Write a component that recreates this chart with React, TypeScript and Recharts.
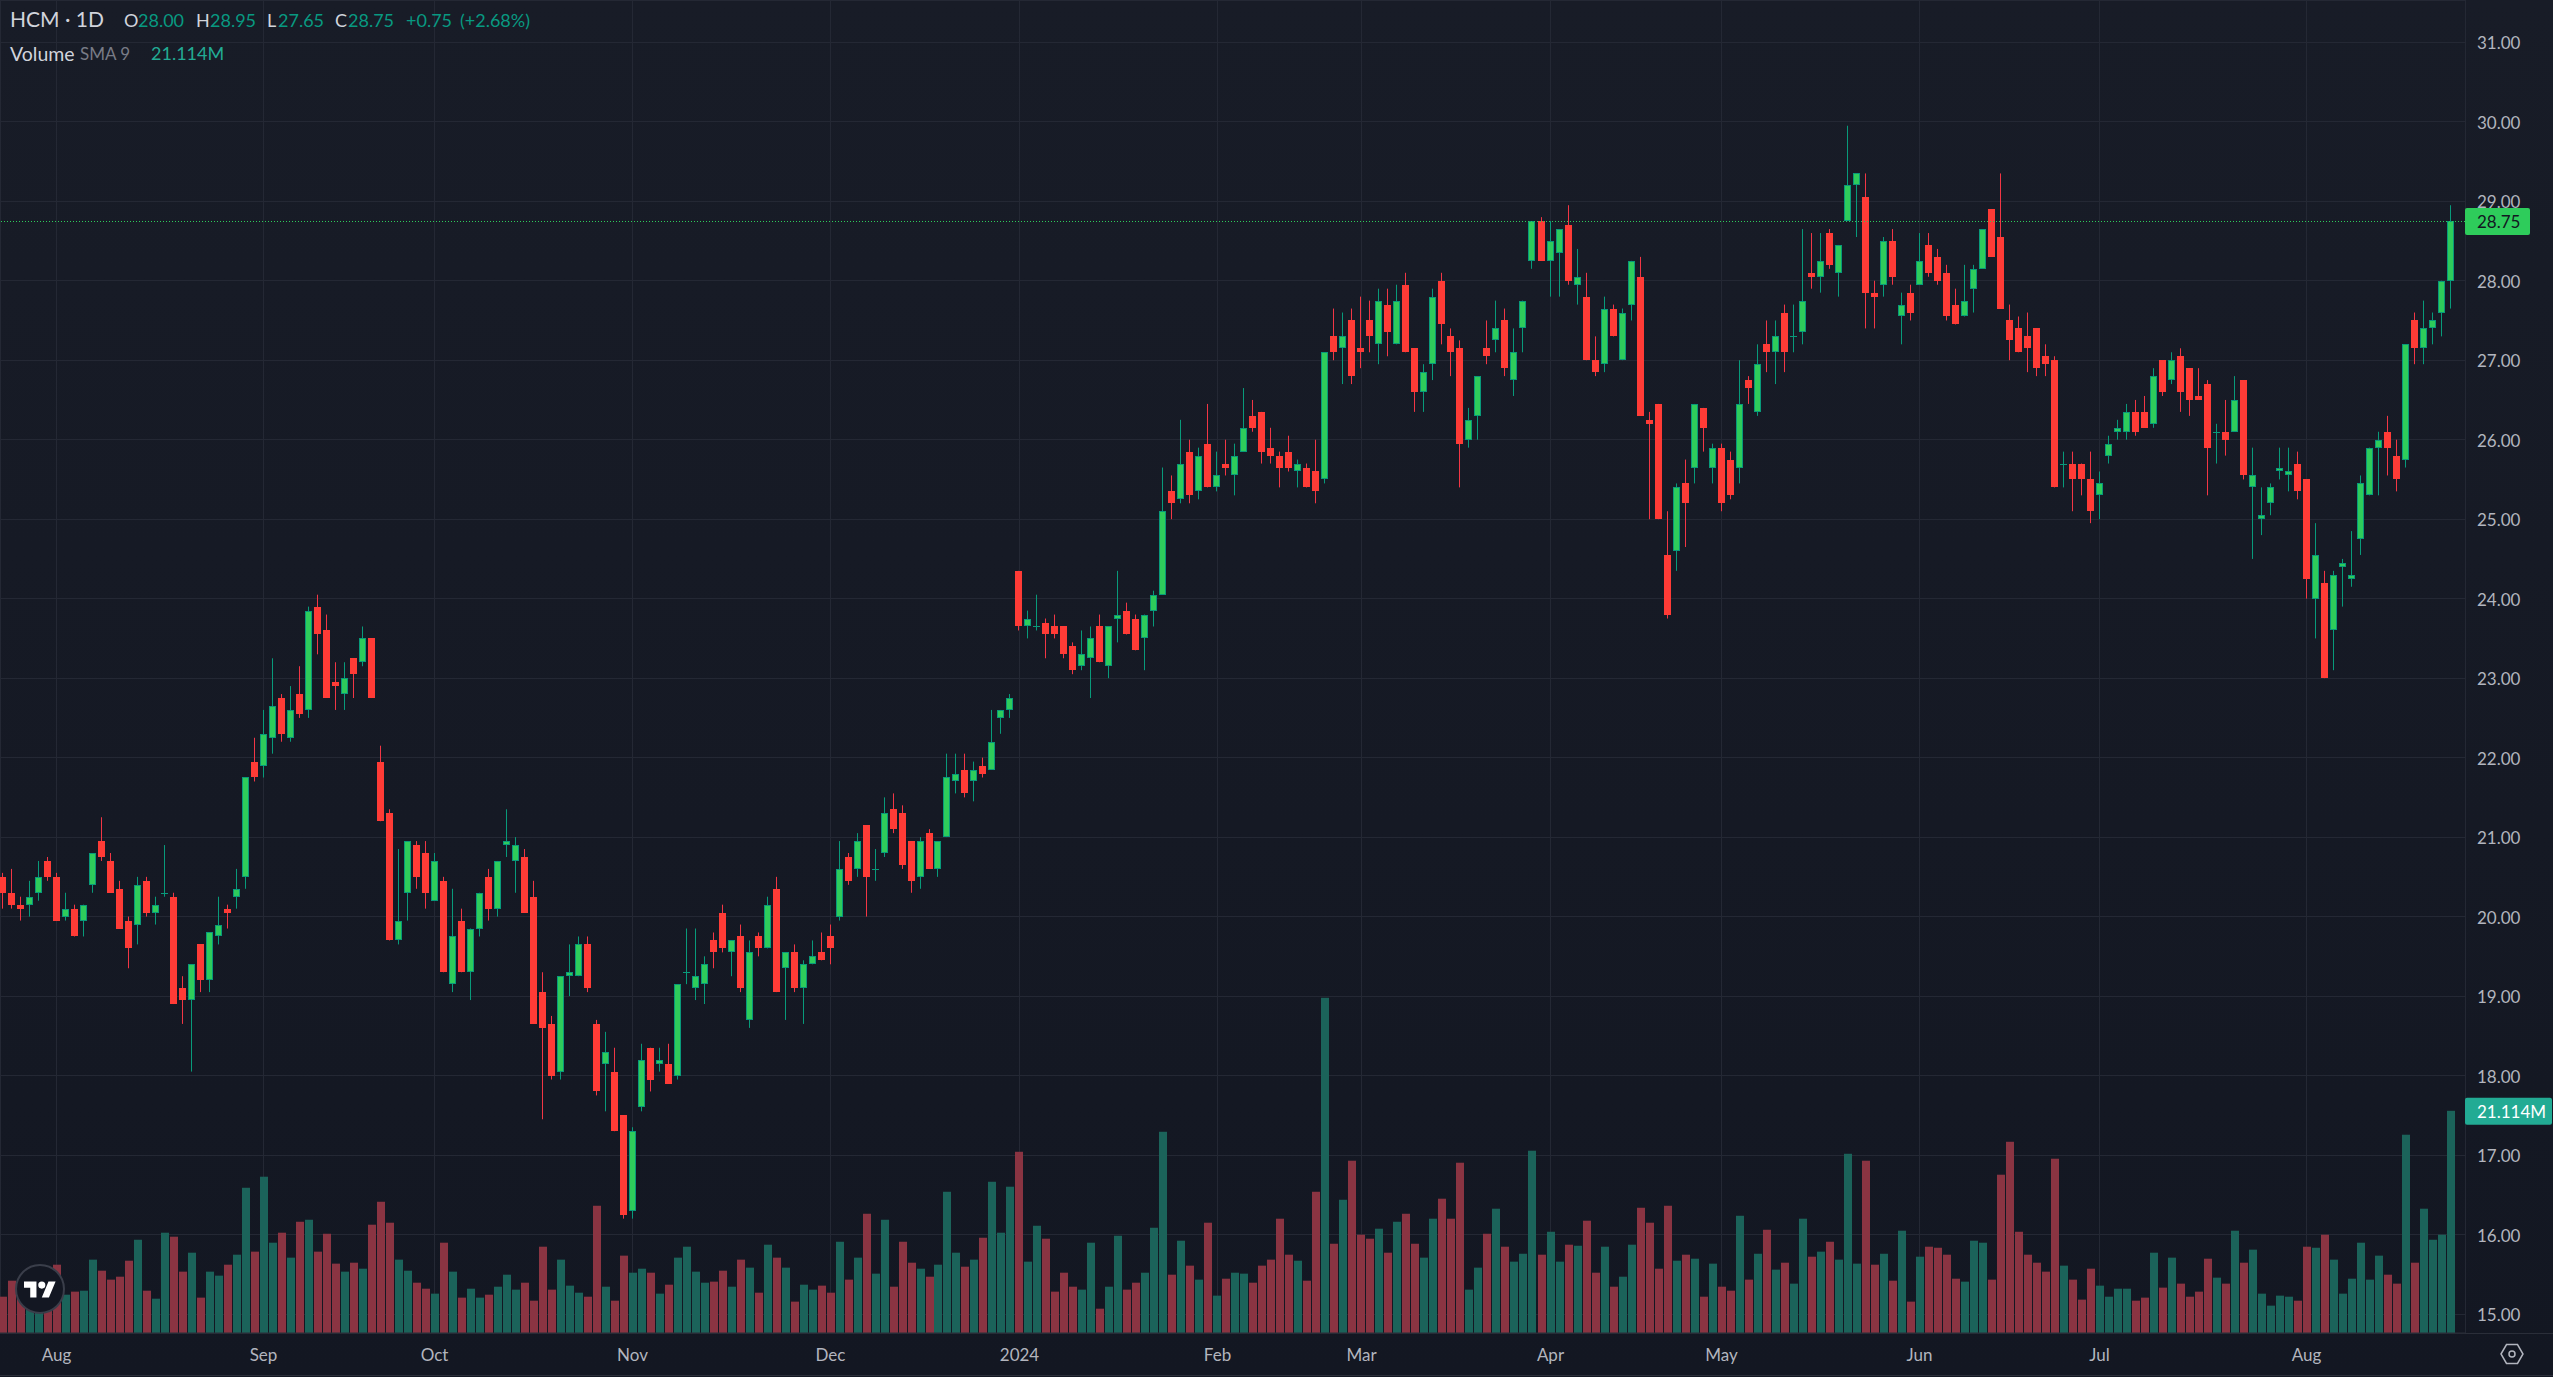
import { Bar, CartesianGrid, ComposedChart, ReferenceLine, XAxis, YAxis } from "recharts";

const WIDTH = 2553;
const HEIGHT = 1377;

const opens = [
  20.5, 20.3, 20.15, 20.15, 20.3, 20.7, 20.5, 20.0, 20.1, 19.95,
  20.4, 20.95, 20.7, 20.35, 19.95, 19.9, 20.45, 20.05, 20.3, 20.25,
  19.1, 18.95, 19.65, 19.2, 19.75, 20.1, 20.25, 20.5, 21.95, 21.9,
  22.25, 22.75, 22.25, 22.8, 22.6, 23.9, 23.6, 22.95, 22.8, 23.25,
  23.2, 23.5, 21.95, 21.3, 19.7, 20.3, 20.9, 20.8, 20.2, 20.45,
  19.15, 19.95, 19.3, 19.85, 20.5, 20.1, 20.9, 20.7, 20.75, 20.25,
  19.05, 18.65, 18.05, 19.25, 19.25, 19.65, 18.65, 18.15, 18.05, 17.5,
  16.3, 17.6, 18.35, 18.15, 18.15, 18.0, 19.3, 19.1, 19.15, 19.7,
  20.05, 19.55, 19.75, 18.7, 19.75, 19.6, 20.35, 19.35, 19.55, 19.1,
  19.4, 19.55, 19.75, 20.0, 20.75, 20.6, 21.15, 20.6, 20.8, 21.35,
  21.3, 20.95, 20.5, 21.05, 20.6, 21.0, 21.7, 21.85, 21.7, 21.9,
  21.85, 22.5, 22.6, 24.35, 23.65, 23.65, 23.7, 23.65, 23.65, 23.4,
  23.15, 23.25, 23.65, 23.15, 23.75, 23.85, 23.75, 23.5, 23.85, 24.05,
  25.35, 25.25, 25.85, 25.35, 25.95, 25.4, 25.7, 25.55, 25.85, 26.3,
  26.35, 25.9, 25.8, 25.85, 25.6, 25.65, 25.6, 25.5, 27.3, 27.15,
  27.5, 27.15, 27.5, 27.2, 27.7, 27.2, 27.95, 27.15, 26.6, 26.95,
  28.0, 27.3, 27.15, 26.0, 26.3, 27.15, 27.25, 27.5, 26.75, 27.4,
  28.25, 28.75, 28.25, 28.35, 28.7, 27.95, 27.8, 27.0, 26.95, 27.65,
  27.0, 27.7, 28.05, 26.25, 26.45, 24.55, 24.6, 25.45, 25.65, 26.4,
  25.65, 25.9, 25.75, 25.65, 26.75, 26.35, 27.2, 27.1, 27.6, 27.3,
  27.35, 28.1, 28.05, 28.6, 28.1, 28.75, 29.2, 29.05, 27.85, 27.95,
  28.5, 27.55, 27.85, 27.95, 28.45, 28.3, 28.1, 27.7, 27.55, 27.9,
  28.15, 28.9, 28.55, 27.5, 27.4, 27.3, 27.4, 27.05, 27.0, 25.7,
  25.7, 25.7, 25.5, 25.3, 25.8, 26.1, 26.1, 26.35, 26.35, 26.2,
  27.0, 26.75, 27.05, 26.9, 26.55, 26.7, 26.1, 26.1, 26.1, 26.75,
  25.4, 25.0, 25.2, 25.6, 25.55, 25.7, 25.5, 24.0, 24.2, 23.6,
  24.4, 24.25, 24.75, 25.3, 25.9, 26.1, 25.8, 25.75, 27.5, 27.15,
  27.4, 27.6, 28.0,
];

const highs = [
  20.55, 20.6, 20.25, 20.45, 20.7, 20.75, 20.55, 20.3, 20.15, 20.15,
  20.8, 21.25, 20.8, 20.45, 20.0, 20.5, 20.5, 20.25, 20.9, 20.3,
  19.25, 19.4, 19.65, 19.8, 20.25, 20.15, 20.6, 21.75, 22.25, 22.6,
  23.25, 22.8, 22.9, 23.15, 23.9, 24.05, 23.8, 23.2, 23.2, 23.25,
  23.65, 23.5, 22.15, 21.35, 20.85, 20.95, 20.95, 20.95, 20.8, 20.5,
  20.35, 20.1, 19.85, 20.3, 20.6, 20.7, 21.35, 21.0, 20.85, 20.45,
  19.3, 18.75, 19.25, 19.65, 19.75, 19.75, 18.7, 18.55, 18.35, 17.5,
  17.35, 18.4, 18.35, 18.35, 18.4, 19.15, 19.85, 19.85, 19.5, 19.8,
  20.15, 19.7, 19.9, 19.7, 19.8, 20.25, 20.5, 19.55, 19.65, 19.45,
  19.7, 19.8, 19.9, 20.95, 20.8, 21.05, 21.15, 20.85, 21.5, 21.55,
  21.4, 20.95, 21.0, 21.1, 20.95, 22.05, 22.05, 22.05, 21.95, 22.0,
  22.6, 22.6, 22.8, 24.35, 23.85, 24.05, 23.75, 23.8, 23.65, 23.45,
  23.6, 23.65, 23.8, 23.65, 24.35, 23.95, 23.8, 23.8, 24.1, 25.65,
  25.55, 26.25, 26.0, 25.9, 26.45, 25.85, 26.0, 25.95, 26.65, 26.5,
  26.35, 26.15, 25.85, 26.05, 25.75, 25.7, 26.0, 27.1, 27.65, 27.6,
  27.65, 27.8, 27.75, 27.9, 27.9, 27.95, 28.1, 27.15, 26.95, 27.9,
  28.1, 27.4, 27.25, 26.4, 26.8, 27.5, 27.75, 27.65, 27.4, 27.75,
  28.75, 28.8, 28.75, 28.65, 28.95, 28.4, 28.1, 27.3, 27.8, 27.7,
  27.65, 28.25, 28.3, 26.35, 26.45, 25.1, 25.45, 25.75, 26.45, 26.4,
  25.95, 25.95, 25.85, 27.0, 26.8, 27.2, 27.5, 27.5, 27.7, 27.7,
  28.65, 28.6, 28.6, 28.65, 28.45, 29.95, 29.35, 29.35, 28.0, 28.55,
  28.65, 27.85, 27.95, 28.6, 28.6, 28.4, 28.2, 27.9, 28.2, 28.2,
  28.65, 28.9, 29.35, 27.7, 27.55, 27.6, 27.4, 27.2, 27.05, 25.85,
  25.85, 25.7, 25.85, 25.6, 26.05, 26.25, 26.45, 26.5, 26.55, 26.9,
  27.0, 27.1, 27.15, 26.9, 26.9, 26.75, 26.2, 26.5, 26.8, 26.75,
  25.9, 25.4, 25.45, 25.9, 25.9, 25.85, 25.5, 24.95, 24.35, 24.35,
  24.5, 24.85, 25.55, 25.9, 26.1, 26.3, 26.0, 27.2, 27.6, 27.75,
  27.6, 28.0, 28.95,
];

const lows = [
  20.1, 20.1, 19.95, 20.0, 20.2, 20.45, 19.95, 19.95, 19.75, 19.75,
  20.3, 20.7, 20.3, 19.85, 19.35, 19.65, 20.0, 19.9, 20.25, 18.9,
  18.65, 18.05, 19.05, 19.05, 19.65, 19.85, 20.1, 20.35, 21.7, 21.75,
  22.05, 22.2, 22.2, 22.5, 22.5, 23.3, 22.75, 22.6, 22.6, 22.75,
  23.15, 22.75, 21.2, 19.7, 19.65, 19.95, 20.35, 20.1, 20.2, 19.3,
  19.05, 19.3, 18.95, 19.75, 19.95, 20.0, 20.75, 20.3, 20.05, 18.65,
  17.45, 17.95, 17.95, 19.0, 19.25, 19.05, 17.75, 17.55, 17.3, 16.2,
  16.2, 17.55, 17.8, 18.05, 17.9, 17.95, 19.15, 18.95, 18.9, 19.35,
  19.55, 19.25, 19.05, 18.6, 19.5, 19.6, 19.05, 18.7, 19.05, 18.65,
  19.4, 19.45, 19.4, 19.95, 20.4, 20.5, 20.0, 20.45, 20.75, 21.05,
  20.6, 20.3, 20.35, 20.6, 20.5, 21.0, 21.55, 21.5, 21.45, 21.75,
  21.85, 22.3, 22.5, 23.6, 23.5, 23.6, 23.25, 23.5, 23.25, 23.05,
  23.1, 22.75, 23.2, 23.0, 23.45, 23.55, 23.35, 23.1, 23.65, 24.05,
  25.0, 25.2, 25.2, 25.25, 25.4, 25.35, 25.55, 25.3, 25.85, 26.1,
  25.7, 25.7, 25.4, 25.6, 25.4, 25.4, 25.2, 25.45, 27.0, 26.7,
  26.7, 26.9, 27.1, 26.95, 27.05, 27.2, 27.1, 26.35, 26.35, 26.75,
  27.2, 26.8, 25.4, 25.9, 26.0, 26.95, 27.1, 26.8, 26.55, 27.1,
  28.15, 28.25, 27.8, 27.8, 27.95, 27.7, 27.0, 26.8, 26.85, 27.3,
  27.0, 27.5, 26.3, 25.0, 25.0, 23.75, 24.35, 24.65, 25.45, 25.85,
  25.45, 25.1, 25.25, 25.45, 26.45, 26.3, 26.85, 26.7, 26.85, 27.1,
  27.2, 27.9, 27.85, 28.15, 27.8, 28.75, 28.55, 27.4, 27.4, 27.8,
  27.95, 27.2, 27.5, 27.95, 28.05, 27.95, 27.5, 27.45, 27.55, 27.6,
  28.15, 28.3, 27.65, 27.0, 27.1, 26.85, 26.8, 26.8, 25.4, 25.4,
  25.1, 25.3, 24.95, 25.0, 25.7, 26.0, 26.0, 26.05, 26.15, 26.15,
  26.55, 26.7, 26.35, 26.3, 26.5, 25.3, 25.7, 25.8, 26.1, 25.5,
  24.5, 24.8, 25.05, 25.5, 25.35, 25.25, 24.0, 23.5, 23.0, 23.1,
  23.9, 24.15, 24.55, 25.3, 25.3, 25.55, 25.35, 25.65, 26.95, 26.95,
  27.2, 27.3, 27.65,
];

const closes = [
  20.3, 20.15, 20.1, 20.25, 20.5, 20.5, 19.95, 20.1, 19.75, 20.15,
  20.8, 20.75, 20.3, 19.85, 19.6, 20.4, 20.05, 20.15, 20.3, 18.9,
  18.95, 19.4, 19.2, 19.8, 19.9, 20.05, 20.35, 21.75, 21.75, 22.3,
  22.65, 22.3, 22.6, 22.55, 23.85, 23.55, 22.75, 22.9, 23.0, 23.05,
  23.5, 22.75, 21.2, 19.7, 19.95, 20.95, 20.5, 20.3, 20.7, 19.3,
  19.75, 19.3, 19.85, 20.3, 20.1, 20.7, 20.95, 20.9, 20.05, 18.65,
  18.6, 18.0, 19.25, 19.3, 19.65, 19.1, 17.8, 18.3, 17.3, 16.25,
  17.3, 18.2, 17.95, 18.2, 17.9, 19.15, 19.3, 19.25, 19.4, 19.55,
  19.6, 19.7, 19.1, 19.55, 19.6, 20.15, 19.05, 19.55, 19.1, 19.4,
  19.5, 19.45, 19.6, 20.6, 20.45, 20.95, 20.5, 20.6, 21.3, 21.1,
  20.65, 20.45, 20.95, 20.6, 20.95, 21.75, 21.8, 21.55, 21.85, 21.8,
  22.2, 22.6, 22.75, 23.65, 23.75, 23.65, 23.55, 23.55, 23.3, 23.1,
  23.3, 23.5, 23.2, 23.65, 23.8, 23.55, 23.35, 23.8, 24.05, 25.1,
  25.2, 25.7, 25.3, 25.8, 25.4, 25.55, 25.65, 25.8, 26.15, 26.15,
  25.85, 25.8, 25.65, 25.65, 25.7, 25.4, 25.35, 27.1, 27.1, 27.3,
  26.8, 27.1, 27.3, 27.75, 27.35, 27.75, 27.1, 26.6, 26.85, 27.8,
  27.45, 27.1, 25.95, 26.25, 26.8, 27.05, 27.4, 26.9, 27.1, 27.75,
  28.75, 28.25, 28.5, 28.65, 28.0, 28.05, 27.0, 26.85, 27.65, 27.3,
  27.6, 28.25, 26.3, 26.2, 25.0, 23.8, 25.4, 25.2, 26.45, 26.15,
  25.9, 25.2, 25.3, 26.45, 26.65, 26.95, 27.1, 27.3, 27.1, 27.3,
  27.75, 28.05, 28.25, 28.2, 28.45, 29.2, 29.35, 27.85, 27.8, 28.5,
  28.05, 27.7, 27.6, 28.25, 28.1, 28.0, 27.55, 27.45, 27.75, 28.15,
  28.65, 28.3, 27.65, 27.25, 27.1, 27.15, 26.9, 26.95, 25.4, 25.7,
  25.5, 25.5, 25.1, 25.45, 25.95, 26.15, 26.35, 26.1, 26.15, 26.8,
  26.6, 27.0, 26.6, 26.5, 26.5, 25.9, 26.1, 26.0, 26.5, 25.55,
  25.55, 25.05, 25.4, 25.65, 25.6, 25.35, 24.25, 24.55, 23.0, 24.3,
  24.45, 24.3, 25.45, 25.9, 26.0, 25.9, 25.5, 27.2, 27.15, 27.4,
  27.5, 28.0, 28.75,
];

// volume in millions
const volumes = [
  3.45, 4.97, 3.8, 3.17, 3.8, 4.12, 6.49, 3.64, 3.93, 4.02,
  6.97, 5.92, 5.07, 5.35, 6.87, 8.86, 4.02, 3.26, 9.53, 9.15,
  5.83, 7.63, 3.36, 5.83, 5.45, 6.49, 7.44, 13.8, 7.73, 14.85,
  8.58, 9.53, 7.16, 10.57, 10.76, 7.73, 9.43, 6.59, 5.83, 6.68,
  6.11, 10.29, 12.47, 10.48, 6.97, 5.92, 4.78, 4.21, 3.74, 8.58,
  5.83, 3.36, 4.21, 3.36, 3.64, 4.4, 5.54, 4.12, 4.78, 3.07,
  8.2, 4.12, 6.97, 4.5, 3.83, 3.45, 12.09, 4.4, 3.07, 7.35,
  5.73, 6.11, 5.73, 3.74, 4.59, 7.16, 8.2, 5.83, 4.78, 4.88,
  5.92, 4.4, 6.97, 6.21, 3.83, 8.39, 7.16, 6.21, 2.98, 4.59,
  4.12, 4.5, 3.83, 8.67, 5.07, 7.16, 11.33, 5.64, 10.76, 4.4,
  8.67, 6.68, 6.11, 5.35, 6.49, 13.42, 7.63, 6.3, 6.97, 9.05,
  14.37, 9.53, 13.9, 17.22, 6.78, 10.19, 8.96, 3.93, 5.73, 4.4,
  4.12, 8.58, 2.31, 4.4, 9.24, 4.12, 4.78, 5.73, 10.0, 19.12,
  5.54, 8.77, 6.4, 5.07, 10.48, 3.55, 5.16, 5.73, 5.64, 4.78,
  6.4, 6.97, 10.86, 7.44, 6.87, 4.97, 13.42, 31.85, 8.48, 12.66,
  16.37, 9.34, 8.96, 9.91, 7.63, 10.57, 11.33, 8.48, 7.16, 10.86,
  12.76, 10.86, 16.18, 4.12, 6.21, 9.43, 11.81, 8.2, 6.78, 7.53,
  17.32, 7.44, 9.62, 6.78, 8.39, 8.29, 10.67, 5.73, 8.2, 4.4,
  5.35, 8.39, 11.9, 10.48, 6.11, 12.09, 6.87, 7.44, 7.06, 3.45,
  6.59, 4.4, 4.02, 11.14, 5.07, 7.53, 9.81, 6.02, 6.68, 4.69,
  10.86, 7.25, 7.73, 8.67, 6.97, 17.03, 6.59, 16.37, 6.49, 7.53,
  4.97, 9.72, 2.98, 7.25, 8.2, 8.1, 7.44, 5.16, 4.88, 8.77,
  8.58, 5.07, 15.04, 18.17, 9.62, 7.44, 6.68, 5.83, 16.56, 6.4,
  5.07, 3.17, 6.11, 4.5, 3.45, 4.21, 4.21, 3.07, 3.36, 7.63,
  4.31, 7.16, 4.69, 3.45, 3.93, 7.06, 5.26, 4.69, 9.72, 6.68,
  7.92, 3.74, 2.6, 3.55, 3.45, 3.07, 8.2, 8.1, 9.34, 6.97,
  3.74, 5.16, 8.58, 5.07, 7.35, 5.54, 4.69, 18.84, 6.68, 11.81,
  8.86, 9.34, 21.114,
];

const monthTicks = [6, 29, 48, 70, 92, 113, 135, 151, 172, 191, 213, 233, 256];
const monthLabels = ["Aug", "Sep", "Oct", "Nov", "Dec", "2024", "Feb", "Mar", "Apr", "May", "Jun", "Jul", "Aug"];
const priceTicks = [15, 16, 17, 18, 19, 20, 21, 22, 23, 24, 25, 26, 27, 28, 29, 30, 31];

const lastClose = 28.75;
const lastVolume = 21.114;

const table = opens.map((open, i) => ({
  idx: i,
  open,
  high: highs[i],
  low: lows[i],
  close: closes[i],
  range: [lows[i], highs[i]],
  volume: volumes[i],
}));

const UP_BODY = "#2ecc5b";
const UP_LINE = "#089a7a";
const DOWN_BODY = "#ff3b36";
const DOWN_WICK = "#f23645";
const VOL_UP = "#1b635a";
const VOL_DOWN = "#8a3442";
const GRID = "#242834";
const AXIS_TEXT = "#b2b5be";
const FONT = "Lato, sans-serif";

// x index -> pixel: the band of one candle is 9px
const xDomain = [-0.278, 273.61];

// the source rounds this stretch of candles one pixel to the left
const nudge = (idx: number) => (idx >= 104 && idx <= 170 ? -1 : 0);

function Candle(props: any) {
  const { x, y, width, height, payload } = props;
  if (!payload || height == null) return null;
  const { open, high, low, close, idx } = payload;
  const up = close >= open;
  const perUnit = height / (high - low);
  const wickX = Math.round(x + width / 2 - 0.5) + nudge(idx);
  const left = wickX - 3;
  const top = Math.round(y + (high - Math.max(open, close)) * perUnit);
  const bottom = Math.round(y + (high - Math.min(open, close)) * perUnit);
  const h = Math.max(bottom - top, 1);
  return (
    <g>
      <rect x={wickX} y={y} width={1} height={height} fill={up ? UP_LINE : DOWN_WICK} />
      <rect x={left} y={top} width={7} height={h} fill={up ? UP_LINE : DOWN_BODY} />
      {up && h > 2 && <rect x={left + 1} y={top + 1} width={5} height={h - 2} fill={UP_BODY} />}
    </g>
  );
}

function VolumeBar(props: any) {
  const { x, y, width, height, payload } = props;
  if (!payload) return null;
  const left = Math.round(x + width / 2 - 4) + nudge(payload.idx);
  return (
    <rect
      x={left}
      y={y}
      width={8}
      height={height}
      fill={payload.close >= payload.open ? VOL_UP : VOL_DOWN}
    />
  );
}

function PriceTag({ viewBox }: any) {
  const right = viewBox.x + viewBox.width;
  return (
    <g>
      <rect x={right} y={viewBox.y - 13} width={65} height={27} rx={2} fill={UP_BODY} />
      <text x={right + 12} y={viewBox.y + 7} fontSize={17} fontFamily={FONT} fill="#131722">
        28.75
      </text>
    </g>
  );
}

function VolumeTag({ viewBox }: any) {
  const right = viewBox.x + viewBox.width;
  return (
    <g>
      <rect x={right} y={viewBox.y - 13} width={87} height={27} rx={2} fill="#22ab94" />
      <text x={right + 12} y={viewBox.y + 7} fontSize={17} fontFamily={FONT} fill="#ffffff">
        21.114M
      </text>
    </g>
  );
}

const tag = (left: number, top: number, color: string, size: number, text: string) => (
  <span
    style={{
      position: "absolute",
      left,
      top,
      color,
      fontSize: size,
      fontFamily: FONT,
      lineHeight: 1,
      whiteSpace: "nowrap",
    }}
  >
    {text}
  </span>
);

export default function App() {
  return (
    <div
      style={{
        position: "absolute",
        left: 0,
        top: 0,
        width: WIDTH,
        height: HEIGHT,
        overflow: "hidden",
        background: "linear-gradient(#181c27, #131722)",
      }}
    >
      <ComposedChart
        width={WIDTH}
        height={HEIGHT}
        data={table}
        margin={{ top: 0, right: 0, bottom: 0, left: 0 }}
      >
        <CartesianGrid yAxisId="price" stroke={GRID} shapeRendering="crispEdges" />
        <XAxis
          dataKey="idx"
          type="number"
          domain={xDomain}
          allowDataOverflow
          ticks={monthTicks}
          interval={0}
          height={44}
          tickSize={0}
          tickMargin={16}
          tick={{ fontSize: 17, fontFamily: FONT, fill: AXIS_TEXT }}
          tickFormatter={(v: number) => monthLabels[monthTicks.indexOf(v)]}
          stroke="#2a2e39"
        />
        <XAxis xAxisId="vol" dataKey="idx" type="number" domain={xDomain} allowDataOverflow ticks={monthTicks} hide />
        <YAxis
          yAxisId="price"
          orientation="right"
          width={88}
          domain={[14.761, 31.532]}
          allowDataOverflow
          ticks={priceTicks}
          interval={0}
          tickSize={0}
          tickMargin={12}
          axisLine={false}
          tick={{ fontSize: 17, fontFamily: FONT, fill: AXIS_TEXT, dy: 1 }}
          tickFormatter={(v: number) => v.toFixed(2)}
        />
        <YAxis yAxisId="vol" domain={[0, 126.66]} allowDataOverflow hide />
        <Bar
          xAxisId="vol"
          yAxisId="vol"
          dataKey="volume"
          barSize={8}
          shape={VolumeBar}
          isAnimationActive={false}
        />
        <Bar yAxisId="price" dataKey="range" barSize={7} shape={Candle} isAnimationActive={false} />
        <ReferenceLine
          yAxisId="price"
          y={lastClose}
          stroke={UP_BODY}
          strokeWidth={1}
          strokeDasharray="1 2"
          shapeRendering="crispEdges"
          label={(p: any) => <PriceTag {...p} />}
        />
        <ReferenceLine
          yAxisId="vol"
          xAxisId="vol"
          y={lastVolume}
          stroke="none"
          label={(p: any) => <VolumeTag {...p} />}
        />
      </ComposedChart>

      {tag(10, 8, "#d1d4dc", 21, "HCM · 1D")}
      {tag(124, 11, "#d1d4dc", 18, "O")}
      {tag(138, 11, "#089981", 18, "28.00")}
      {tag(196, 11, "#d1d4dc", 18, "H")}
      {tag(210, 11, "#089981", 18, "28.95")}
      {tag(267, 11, "#d1d4dc", 18, "L")}
      {tag(278, 11, "#089981", 18, "27.65")}
      {tag(335, 11, "#d1d4dc", 18, "C")}
      {tag(348, 11, "#089981", 18, "28.75")}
      {tag(406, 11, "#089981", 18, "+0.75")}
      {tag(460, 11, "#089981", 18, "(+2.68%)")}
      {tag(10, 44, "#d1d4dc", 19.5, "Volume")}
      {tag(80, 45, "#787b86", 17, "SMA 9")}
      {tag(151, 44, "#22ab94", 18, "21.114M")}

      <svg
        width={WIDTH}
        height={HEIGHT}
        style={{ position: "absolute", left: 0, top: 0, pointerEvents: "none" }}
      >
        <line x1={2465} y1={1333.5} x2={WIDTH} y2={1333.5} stroke="#2a2e39" />
        <line x1={0} y1={1375.5} x2={WIDTH} y2={1375.5} stroke="#2a2e39" />
        <circle cx={40} cy={1289} r={24} fill="#131722" stroke="#3a3e4a" strokeWidth={2} />
        <g transform="translate(24 1278) scale(0.89)" fill="#ffffff">
          <path d="M14 22H7V11H0V4h14v18zM28 22h-8l7.5-18h8L28 22z" />
          <circle cx={20} cy={8} r={4} />
        </g>
        <g stroke="#b2b5be" strokeWidth={1.5} fill="none">
          <path d="M2501 1354l5.5-9.5h11l5.5 9.5-5.5 9.5h-11z" />
          <circle cx={2512} cy={1354} r={3} />
        </g>
      </svg>
    </div>
  );
}
